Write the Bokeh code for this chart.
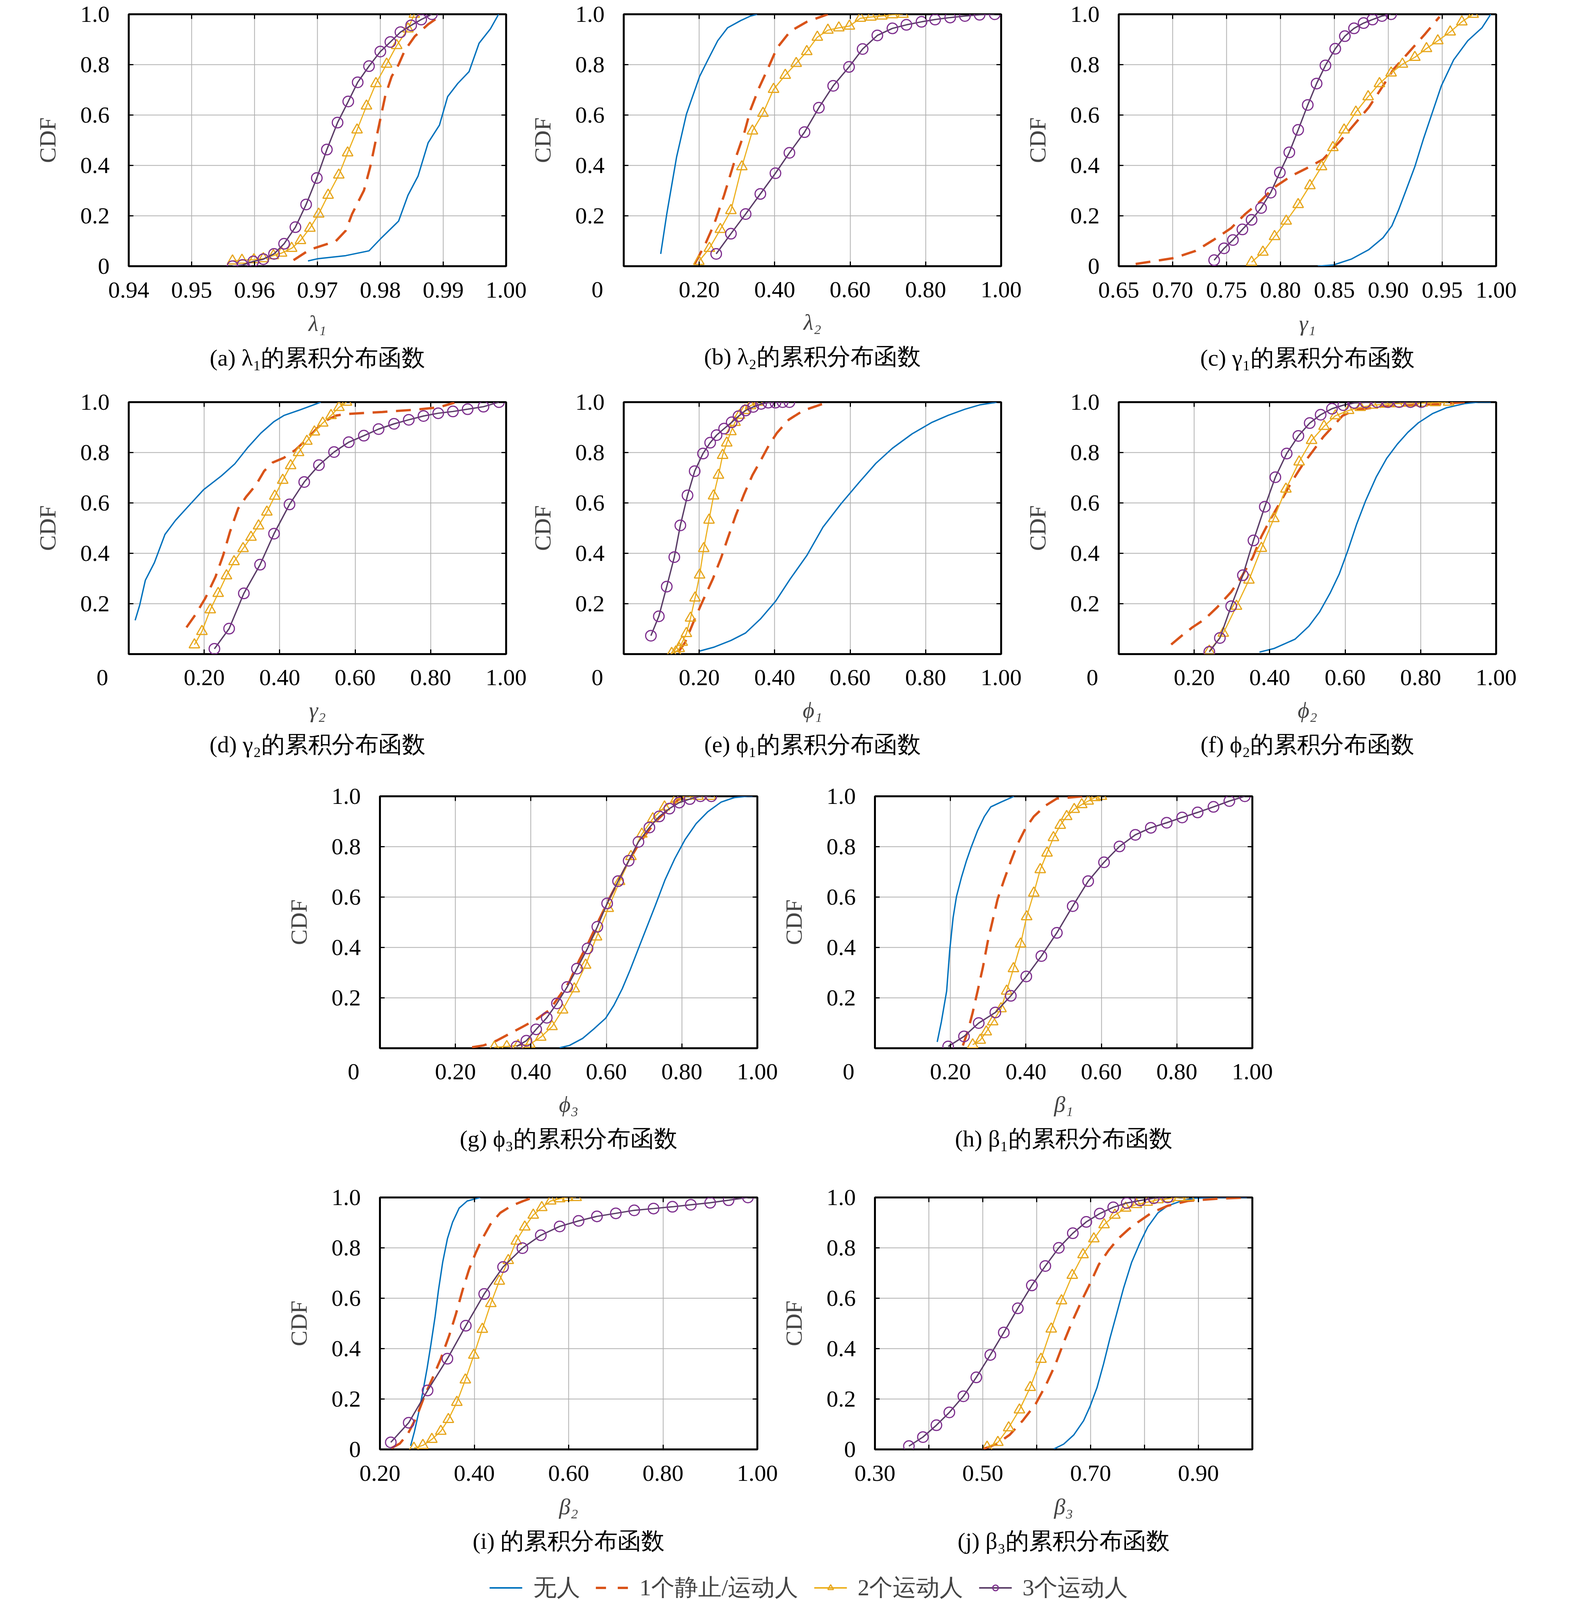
import numpy as np
from bokeh.plotting import figure
from bokeh.models import (Range1d, FixedTicker, LinearAxis, Legend, LegendItem,
                          ColumnDataSource, Spacer, Title)
from bokeh.layouts import row, column
from bokeh.embed import file_html
from bokeh.resources import INLINE

# ---- data (x value, CDF) ----
# series order in every panel: none (无人), one (1个静止/运动人), two (2个运动人), three (3个运动人)

# (a) lambda1
lam1_none_x = [0.9685, 0.9701, 0.9745, 0.9782, 0.9800, 0.9829, 0.9844, 0.9860, 0.9876, 0.9894, 0.9907, 0.9923, 0.9941, 0.9957, 0.9975, 0.9988]
lam1_none_y = [0.021, 0.030, 0.042, 0.061, 0.108, 0.179, 0.282, 0.358, 0.490, 0.560, 0.673, 0.725, 0.772, 0.885, 0.942, 1.0]
lam1_one_x = [0.9662, 0.9688, 0.9729, 0.9745, 0.9755, 0.9774, 0.9784, 0.9792, 0.9800, 0.9808, 0.9818, 0.9829, 0.9839, 0.9855, 0.9876, 0.9899]
lam1_one_y = [0.024, 0.066, 0.099, 0.141, 0.207, 0.301, 0.395, 0.490, 0.584, 0.678, 0.753, 0.800, 0.857, 0.913, 0.960, 1.0]
lam1_two_x = [0.9565, 0.9580, 0.9599, 0.9614, 0.9630, 0.9643, 0.9659, 0.9673, 0.9688, 0.9702, 0.9717, 0.9734, 0.9748, 0.9763, 0.9778, 0.9793, 0.9810, 0.9826, 0.9844, 0.9854]
lam1_two_y = [0.021, 0.024, 0.026, 0.030, 0.042, 0.052, 0.071, 0.102, 0.151, 0.207, 0.282, 0.362, 0.450, 0.541, 0.636, 0.725, 0.802, 0.876, 0.942, 1.0]
lam1_three_x = [0.9565, 0.9581, 0.9598, 0.9614, 0.9631, 0.9647, 0.9665, 0.9682, 0.9699, 0.9715, 0.9732, 0.9749, 0.9764, 0.9782, 0.9800, 0.9816, 0.9832, 0.9849, 0.9865, 0.9882]
lam1_three_y = [0.0, 0.005, 0.019, 0.028, 0.049, 0.089, 0.155, 0.245, 0.350, 0.463, 0.570, 0.654, 0.730, 0.794, 0.852, 0.890, 0.929, 0.956, 0.979, 1.0]

# (b) lambda2
lam2_none_x = [0.098, 0.114, 0.127, 0.140, 0.153, 0.166, 0.179, 0.201, 0.223, 0.249, 0.275, 0.310, 0.336, 0.354]
lam2_none_y = [0.049, 0.207, 0.320, 0.433, 0.518, 0.603, 0.659, 0.753, 0.819, 0.895, 0.946, 0.975, 0.993, 1.0]
lam2_one_x = [0.188, 0.218, 0.240, 0.266, 0.293, 0.319, 0.336, 0.358, 0.384, 0.406, 0.441, 0.485, 0.541]
lam2_one_y = [0.009, 0.094, 0.169, 0.282, 0.414, 0.527, 0.621, 0.706, 0.791, 0.866, 0.932, 0.970, 1.0]
lam2_two_x = [0.199, 0.227, 0.256, 0.284, 0.313, 0.341, 0.369, 0.397, 0.428, 0.457, 0.485, 0.513, 0.541, 0.570, 0.598, 0.627, 0.655, 0.684, 0.712, 0.740]
lam2_two_y = [0.019, 0.071, 0.146, 0.221, 0.395, 0.537, 0.607, 0.702, 0.758, 0.805, 0.852, 0.909, 0.937, 0.946, 0.953, 0.984, 0.989, 0.993, 0.998, 1.0]
lam2_three_x = [0.245, 0.284, 0.323, 0.362, 0.402, 0.439, 0.479, 0.517, 0.555, 0.597, 0.633, 0.672, 0.712, 0.749, 0.789, 0.825, 0.865, 0.904, 0.943, 0.983]
lam2_three_y = [0.049, 0.129, 0.207, 0.287, 0.369, 0.450, 0.532, 0.629, 0.716, 0.791, 0.862, 0.916, 0.944, 0.958, 0.970, 0.979, 0.987, 0.993, 0.998, 1.0]

# (c) gamma1
gam1_none_x = [0.8345, 0.8492, 0.8656, 0.8820, 0.8951, 0.9033, 0.9098, 0.9164, 0.9246, 0.9328, 0.9410, 0.9492, 0.9606, 0.9737, 0.9868, 0.9950]
gam1_none_y = [0.0, 0.005, 0.028, 0.066, 0.113, 0.160, 0.226, 0.301, 0.395, 0.508, 0.612, 0.716, 0.819, 0.895, 0.946, 1.0]
gam1_one_x = [0.6657, 0.6887, 0.7018, 0.7214, 0.7378, 0.7542, 0.7673, 0.7804, 0.7935, 0.8099, 0.8230, 0.8394, 0.8558, 0.8689, 0.8820, 0.8951, 0.9049, 0.9148, 0.9246, 0.9344, 0.9475]
gam1_one_y = [0.009, 0.024, 0.033, 0.061, 0.104, 0.151, 0.207, 0.254, 0.311, 0.358, 0.386, 0.424, 0.499, 0.565, 0.631, 0.716, 0.782, 0.829, 0.876, 0.923, 0.990]
gam1_two_x = [0.7732, 0.7837, 0.7945, 0.8053, 0.8164, 0.8273, 0.8381, 0.8486, 0.8590, 0.8699, 0.8813, 0.8918, 0.9026, 0.9131, 0.9246, 0.9354, 0.9459, 0.9574, 0.9682, 0.9787]
gam1_two_y = [0.016, 0.056, 0.118, 0.179, 0.245, 0.320, 0.395, 0.471, 0.541, 0.612, 0.673, 0.725, 0.767, 0.802, 0.829, 0.864, 0.895, 0.930, 0.970, 1.0]
gam1_three_x = [0.7385, 0.7477, 0.7559, 0.7647, 0.7732, 0.7820, 0.7909, 0.7994, 0.8082, 0.8164, 0.8253, 0.8335, 0.8417, 0.8508, 0.8597, 0.8682, 0.8771, 0.8853, 0.8941, 0.9026]
gam1_three_y = [0.024, 0.071, 0.104, 0.146, 0.184, 0.231, 0.292, 0.372, 0.452, 0.541, 0.640, 0.725, 0.797, 0.863, 0.913, 0.944, 0.965, 0.979, 0.993, 1.0]

# (d) gamma2
gam2_none_x = [0.017, 0.029, 0.044, 0.068, 0.096, 0.124, 0.155, 0.198, 0.246, 0.281, 0.316, 0.350, 0.385, 0.411, 0.455, 0.509]
gam2_none_y = [0.134, 0.194, 0.293, 0.363, 0.475, 0.531, 0.582, 0.652, 0.708, 0.755, 0.821, 0.877, 0.923, 0.947, 0.970, 1.0]
gam2_one_x = [0.153, 0.177, 0.203, 0.230, 0.250, 0.268, 0.290, 0.311, 0.337, 0.359, 0.381, 0.411, 0.442, 0.472, 0.498, 0.524, 0.550, 0.577, 0.672, 0.759, 0.820, 0.863]
gam2_one_y = [0.106, 0.157, 0.222, 0.307, 0.391, 0.484, 0.578, 0.624, 0.671, 0.727, 0.760, 0.779, 0.811, 0.853, 0.895, 0.928, 0.947, 0.953, 0.961, 0.970, 0.979, 0.998]
gam2_two_x = [0.174, 0.194, 0.216, 0.237, 0.259, 0.279, 0.303, 0.324, 0.344, 0.366, 0.387, 0.408, 0.429, 0.450, 0.472, 0.492, 0.514, 0.536, 0.557, 0.577]
gam2_two_y = [0.037, 0.090, 0.176, 0.241, 0.311, 0.367, 0.419, 0.464, 0.509, 0.564, 0.627, 0.690, 0.748, 0.800, 0.845, 0.882, 0.917, 0.947, 0.979, 1.0]
gam2_three_x = [0.227, 0.266, 0.305, 0.348, 0.385, 0.426, 0.465, 0.504, 0.544, 0.583, 0.623, 0.662, 0.703, 0.742, 0.781, 0.820, 0.859, 0.898, 0.940, 0.981]
gam2_three_y = [0.021, 0.101, 0.241, 0.355, 0.478, 0.594, 0.683, 0.750, 0.802, 0.841, 0.867, 0.893, 0.914, 0.930, 0.945, 0.956, 0.963, 0.972, 0.982, 1.0]

# (e) phi1
phi1_none_x = [0.201, 0.240, 0.284, 0.323, 0.362, 0.402, 0.441, 0.485, 0.528, 0.576, 0.624, 0.668, 0.712, 0.764, 0.817, 0.860, 0.904, 0.943, 0.991]
phi1_none_y = [0.012, 0.028, 0.054, 0.084, 0.139, 0.209, 0.298, 0.391, 0.504, 0.597, 0.682, 0.757, 0.817, 0.874, 0.920, 0.948, 0.972, 0.989, 1.0]
phi1_one_x = [0.144, 0.162, 0.188, 0.210, 0.236, 0.258, 0.275, 0.297, 0.319, 0.341, 0.362, 0.384, 0.406, 0.437, 0.476, 0.541]
phi1_one_y = [0.007, 0.045, 0.139, 0.213, 0.298, 0.382, 0.457, 0.551, 0.635, 0.710, 0.766, 0.827, 0.878, 0.930, 0.967, 1.0]
phi1_two_x = [0.127, 0.138, 0.147, 0.155, 0.166, 0.177, 0.189, 0.201, 0.212, 0.226, 0.238, 0.251, 0.262, 0.273, 0.284, 0.295, 0.307, 0.321, 0.336, 0.356]
phi1_two_y = [0.003, 0.009, 0.022, 0.047, 0.082, 0.143, 0.223, 0.314, 0.419, 0.532, 0.628, 0.710, 0.789, 0.838, 0.883, 0.920, 0.948, 0.967, 0.986, 1.0]
phi1_three_x = [0.072, 0.093, 0.114, 0.134, 0.150, 0.169, 0.188, 0.210, 0.229, 0.246, 0.266, 0.286, 0.304, 0.323, 0.343, 0.364, 0.383, 0.402, 0.421, 0.439]
phi1_three_y = [0.073, 0.150, 0.268, 0.385, 0.511, 0.630, 0.726, 0.796, 0.839, 0.869, 0.895, 0.920, 0.944, 0.967, 0.981, 0.993, 0.998, 0.998, 1.0, 1.0]

# (f) phi2
phi2_none_x = [0.373, 0.411, 0.467, 0.504, 0.532, 0.560, 0.584, 0.607, 0.630, 0.654, 0.682, 0.710, 0.738, 0.766, 0.794, 0.832, 0.869, 0.916, 0.953, 0.986]
phi2_none_y = [0.008, 0.022, 0.059, 0.111, 0.167, 0.242, 0.317, 0.411, 0.514, 0.608, 0.702, 0.777, 0.833, 0.880, 0.918, 0.955, 0.978, 0.994, 1.0, 1.0]
phi2_one_x = [0.139, 0.167, 0.195, 0.228, 0.261, 0.298, 0.326, 0.355, 0.378, 0.401, 0.430, 0.458, 0.486, 0.514, 0.542, 0.570, 0.593, 0.626, 0.701, 0.841, 0.920]
phi2_one_y = [0.038, 0.073, 0.106, 0.139, 0.186, 0.247, 0.308, 0.383, 0.467, 0.533, 0.608, 0.683, 0.749, 0.805, 0.862, 0.908, 0.946, 0.969, 0.983, 0.992, 1.0]
phi2_two_x = [0.240, 0.277, 0.312, 0.345, 0.378, 0.411, 0.443, 0.478, 0.511, 0.544, 0.574, 0.609, 0.640, 0.673, 0.705, 0.738, 0.771, 0.804, 0.839, 0.874]
phi2_two_y = [0.012, 0.083, 0.190, 0.294, 0.420, 0.538, 0.655, 0.763, 0.848, 0.904, 0.946, 0.967, 0.979, 0.988, 0.992, 0.994, 0.996, 0.996, 0.998, 1.0]
phi2_three_x = [0.240, 0.268, 0.298, 0.329, 0.357, 0.387, 0.415, 0.445, 0.476, 0.506, 0.535, 0.565, 0.595, 0.624, 0.654, 0.684, 0.713, 0.743, 0.773, 0.802]
phi2_three_y = [0.009, 0.064, 0.190, 0.313, 0.451, 0.585, 0.702, 0.796, 0.866, 0.917, 0.950, 0.974, 0.988, 0.997, 0.999, 1.0, 1.0, 1.0, 1.0, 1.0]

# (g) phi3
phi3_none_x = [0.476, 0.502, 0.537, 0.567, 0.598, 0.620, 0.642, 0.663, 0.685, 0.707, 0.729, 0.755, 0.781, 0.808, 0.838, 0.869, 0.904, 0.939, 0.974, 1.0]
phi3_none_y = [0.002, 0.011, 0.039, 0.077, 0.119, 0.171, 0.236, 0.311, 0.396, 0.480, 0.564, 0.667, 0.752, 0.827, 0.892, 0.939, 0.977, 0.995, 1.0, 1.0]
phi3_one_x = [0.244, 0.274, 0.309, 0.344, 0.379, 0.414, 0.449, 0.476, 0.502, 0.528, 0.554, 0.580, 0.607, 0.633, 0.659, 0.685, 0.712, 0.738, 0.764, 0.790, 0.808]
phi3_one_y = [0.004, 0.011, 0.030, 0.058, 0.086, 0.114, 0.152, 0.208, 0.264, 0.349, 0.424, 0.508, 0.592, 0.667, 0.742, 0.808, 0.864, 0.911, 0.948, 0.986, 1.0]
phi3_two_x = [0.303, 0.336, 0.366, 0.397, 0.426, 0.456, 0.484, 0.515, 0.545, 0.574, 0.605, 0.635, 0.665, 0.694, 0.723, 0.754, 0.784, 0.812, 0.843, 0.876]
phi3_two_y = [0.004, 0.007, 0.011, 0.016, 0.044, 0.086, 0.152, 0.236, 0.330, 0.442, 0.555, 0.662, 0.761, 0.850, 0.911, 0.958, 0.988, 1.0, 1.0, 1.0]
phi3_three_x = [0.362, 0.388, 0.414, 0.442, 0.469, 0.496, 0.522, 0.550, 0.576, 0.602, 0.631, 0.659, 0.685, 0.714, 0.740, 0.767, 0.793, 0.821, 0.849, 0.878]
phi3_three_y = [0.007, 0.030, 0.075, 0.121, 0.178, 0.243, 0.316, 0.396, 0.482, 0.575, 0.663, 0.744, 0.819, 0.876, 0.920, 0.951, 0.975, 0.989, 1.0, 1.0]

# (h) beta1
bet1_none_x = [0.165, 0.176, 0.190, 0.198, 0.207, 0.216, 0.229, 0.242, 0.255, 0.272, 0.290, 0.307, 0.334, 0.369]
bet1_none_y = [0.025, 0.105, 0.227, 0.386, 0.517, 0.602, 0.677, 0.742, 0.798, 0.864, 0.920, 0.958, 0.977, 1.0]
bet1_one_x = [0.233, 0.246, 0.259, 0.272, 0.286, 0.299, 0.312, 0.325, 0.342, 0.360, 0.377, 0.399, 0.421, 0.452, 0.482, 0.552]
bet1_one_y = [0.011, 0.067, 0.142, 0.227, 0.321, 0.424, 0.508, 0.592, 0.667, 0.742, 0.808, 0.873, 0.920, 0.963, 0.991, 1.0]
bet1_two_x = [0.259, 0.279, 0.295, 0.312, 0.334, 0.349, 0.367, 0.386, 0.402, 0.421, 0.438, 0.456, 0.473, 0.491, 0.508, 0.528, 0.548, 0.565, 0.583, 0.600]
bet1_two_y = [0.014, 0.032, 0.065, 0.105, 0.157, 0.227, 0.316, 0.414, 0.522, 0.616, 0.709, 0.775, 0.836, 0.885, 0.920, 0.948, 0.967, 0.981, 0.995, 1.0]
bet1_three_x = [0.194, 0.236, 0.275, 0.319, 0.360, 0.401, 0.441, 0.482, 0.524, 0.565, 0.607, 0.648, 0.690, 0.731, 0.773, 0.814, 0.855, 0.897, 0.939, 0.980]
bet1_three_y = [0.007, 0.047, 0.100, 0.142, 0.208, 0.285, 0.366, 0.458, 0.564, 0.663, 0.738, 0.801, 0.847, 0.875, 0.895, 0.916, 0.936, 0.958, 0.981, 1.0]

# (i) beta2
bet2_none_x = [0.265, 0.273, 0.282, 0.291, 0.300, 0.308, 0.317, 0.324, 0.333, 0.343, 0.354, 0.368, 0.385, 0.413]
bet2_none_y = [0.014, 0.070, 0.145, 0.229, 0.322, 0.416, 0.528, 0.631, 0.743, 0.836, 0.902, 0.958, 0.986, 1.0]
bet2_one_x = [0.224, 0.242, 0.259, 0.277, 0.294, 0.312, 0.329, 0.347, 0.361, 0.375, 0.389, 0.403, 0.417, 0.434, 0.455, 0.479, 0.504, 0.525]
bet2_one_y = [0.005, 0.023, 0.061, 0.126, 0.210, 0.285, 0.360, 0.453, 0.537, 0.631, 0.715, 0.780, 0.836, 0.893, 0.939, 0.967, 0.986, 1.0]
bet2_two_x = [0.272, 0.291, 0.310, 0.329, 0.345, 0.363, 0.381, 0.399, 0.417, 0.435, 0.453, 0.472, 0.489, 0.507, 0.525, 0.543, 0.562, 0.581, 0.598, 0.616]
bet2_two_y = [0.005, 0.016, 0.040, 0.072, 0.119, 0.187, 0.276, 0.374, 0.477, 0.579, 0.668, 0.750, 0.827, 0.883, 0.930, 0.960, 0.986, 0.995, 1.0, 1.0]
bet2_three_x = [0.223, 0.261, 0.301, 0.343, 0.382, 0.421, 0.461, 0.502, 0.541, 0.581, 0.621, 0.660, 0.700, 0.739, 0.780, 0.820, 0.859, 0.900, 0.939, 0.980]
bet2_three_y = [0.028, 0.106, 0.234, 0.360, 0.491, 0.617, 0.724, 0.799, 0.850, 0.885, 0.907, 0.925, 0.937, 0.949, 0.956, 0.963, 0.971, 0.979, 0.989, 1.0]

# (j) beta3
bet3_none_x = [0.632, 0.650, 0.669, 0.687, 0.699, 0.712, 0.724, 0.736, 0.748, 0.761, 0.776, 0.791, 0.806, 0.825, 0.843, 0.868, 0.892, 0.935, 0.990]
bet3_none_y = [0.002, 0.021, 0.058, 0.114, 0.171, 0.246, 0.339, 0.442, 0.536, 0.639, 0.742, 0.817, 0.883, 0.939, 0.967, 0.986, 0.997, 1.0, 1.0]
bet3_one_x = [0.501, 0.525, 0.550, 0.574, 0.598, 0.617, 0.635, 0.650, 0.666, 0.684, 0.699, 0.715, 0.733, 0.751, 0.770, 0.788, 0.813, 0.843, 0.880, 0.935, 0.990]
bet3_one_y = [0.002, 0.021, 0.058, 0.114, 0.180, 0.255, 0.339, 0.424, 0.508, 0.593, 0.658, 0.733, 0.789, 0.836, 0.873, 0.902, 0.939, 0.967, 0.986, 0.995, 1.0]
bet3_two_x = [0.508, 0.528, 0.548, 0.568, 0.588, 0.608, 0.627, 0.646, 0.666, 0.686, 0.706, 0.725, 0.745, 0.765, 0.785, 0.805, 0.825, 0.845, 0.865, 0.883]
bet3_two_y = [0.009, 0.028, 0.086, 0.157, 0.246, 0.358, 0.478, 0.590, 0.691, 0.773, 0.836, 0.892, 0.930, 0.958, 0.972, 0.981, 0.991, 0.995, 1.0, 1.0]
bet3_three_x = [0.363, 0.389, 0.414, 0.438, 0.464, 0.488, 0.514, 0.539, 0.565, 0.591, 0.616, 0.641, 0.667, 0.692, 0.717, 0.742, 0.767, 0.792, 0.817, 0.843]
bet3_three_y = [0.013, 0.049, 0.096, 0.147, 0.211, 0.286, 0.375, 0.464, 0.560, 0.651, 0.728, 0.800, 0.858, 0.903, 0.936, 0.961, 0.978, 0.988, 0.997, 1.0]

# ---- ticks and labels ----
y_ticks = [0, 0.2, 0.4, 0.6, 0.8, 1.0]
y_labels = ["0", "0.2", "0.4", "0.6", "0.8", "1.0"]
a_ticks = [0.94, 0.95, 0.96, 0.97, 0.98, 0.99, 1.0]
a_labels = ["0.94", "0.95", "0.96", "0.97", "0.98", "0.99", "1.00"]
c_ticks = [0.65, 0.7, 0.75, 0.8, 0.85, 0.9, 0.95, 1.0]
c_labels = ["0.65", "0.70", "0.75", "0.80", "0.85", "0.90", "0.95", "1.00"]
unit_ticks = [0.2, 0.4, 0.6, 0.8, 1.0]
unit_labels = ["0.20", "0.40", "0.60", "0.80", "1.00"]
j_ticks = [0.3, 0.4, 0.5, 0.6, 0.7, 0.8, 0.9, 1.0]
j_labels = ["0.30", "", "0.50", "", "0.70", "", "0.90", ""]
# the shared origin "0" sits left of the corner; trailing no-break spaces push it off the tick
origin_label = "0" + "\u00a0" * 9

captions = ["(a) λ₁的累积分布函数", "(b) λ₂的累积分布函数", "(c) γ₁的累积分布函数",
            "(d) γ₂的累积分布函数", "(e) ϕ₁的累积分布函数", "(f) ϕ₂的累积分布函数",
            "(g) ϕ₃的累积分布函数", "(h) β₁的累积分布函数", "(i) 的累积分布函数",
            "(j) β₃的累积分布函数"]
xlabels = ["λ₁", "λ₂", "γ₁", "γ₂", "ϕ₁", "ϕ₂", "ϕ₃", "β₁", "β₂", "β₃"]
legend_labels = ["无人", "1个静止/运动人", "2个运动人", "3个运动人"]

SERIF = "Liberation Serif"
BLUE = "#0072BD"
RED = "#D95319"
YELLOW = "#EDB120"
TRI = "#E6A51C"
PURPLE = "#7E2F8E"
PURPLE_LINE = "#5b3e68"
TICK_FS = "60px"

# the photographed page only shows about 4116px of height, so the rows are laid out in that
FW, FH = 966, 645
TOP = 36


def style_axis(ax, ticks, labels=None):
    ax.ticker = FixedTicker(ticks=ticks)
    ax.axis_line_color = None
    ax.major_tick_in = 12
    ax.major_tick_out = 0
    ax.major_tick_line_width = 3
    ax.major_tick_line_color = "black"
    ax.minor_tick_line_color = None
    if labels is None:
        # top/right sides: inward ticks only, no label text
        ax.major_label_overrides = {t: "" for t in ticks}
        ax.major_label_text_font_size = "1px"
        ax.major_label_standoff = 0
    else:
        ax.major_label_overrides = dict(zip(ticks, labels))
        ax.major_label_text_font = SERIF
        ax.major_label_text_font_size = TICK_FS
        ax.major_label_text_color = "black"


def panel(idx, xr, xt, xl, curves, bottom, origin):
    p = figure(frame_width=FW, frame_height=FH, x_range=Range1d(*xr), y_range=Range1d(0, 1),
               output_backend="svg", toolbar_location=None,
               min_border_left=245, min_border_right=56, min_border_top=TOP,
               min_border_bottom=bottom)
    p.outline_line_color = "black"
    p.outline_line_width = 5
    p.background_fill_color = "white"
    p.border_fill_color = "white"

    yt = y_ticks[1:] if origin else y_ticks
    yl = y_labels[1:] if origin else y_labels
    bt = [0] + xt if origin else xt
    bl = [origin_label] + xl if origin else xl
    style_axis(p.xaxis[0], bt, bl)
    style_axis(p.yaxis[0], yt, yl)
    # the padded origin label measures taller, so pull that axis up to line up with the others
    p.xaxis.major_label_standoff = 26 if origin else 41
    p.yaxis.major_label_standoff = 49
    p.xaxis.axis_label = xlabels[idx]
    p.xaxis.axis_label_text_font = SERIF
    p.xaxis.axis_label_text_font_size = "58px"
    p.xaxis.axis_label_text_font_style = "italic"
    p.xaxis.axis_label_standoff = 15 if origin else 30
    p.yaxis.axis_label = "CDF"
    p.yaxis.axis_label_text_font = SERIF
    p.yaxis.axis_label_text_font_size = "60px"
    p.yaxis.axis_label_text_font_style = "normal"
    p.yaxis.axis_label_standoff = 48

    top = LinearAxis()
    style_axis(top, xt)
    p.add_layout(top, "above")
    right = LinearAxis()
    style_axis(right, yt)
    p.add_layout(right, "right")

    p.xgrid.ticker = FixedTicker(ticks=xt)
    p.ygrid.ticker = FixedTicker(ticks=yt)
    p.grid.grid_line_color = "#b0b0b0"
    p.grid.grid_line_width = 2

    nx, ny, ox, oy, tx, ty, hx, hy = curves
    p.line(nx, ny, line_color=BLUE, line_width=3.5)
    p.line(ox, oy, line_color=RED, line_width=6, line_dash="38 22")
    p.line(tx, ty, line_color=YELLOW, line_width=3)
    p.scatter(tx, ty, marker="triangle", size=27, fill_color=None, line_color=TRI, line_width=3)
    p.line(hx, hy, line_color=PURPLE_LINE, line_width=3.5)
    p.scatter(hx, hy, marker="circle", size=27, fill_color=None, line_color=PURPLE, line_width=3)

    p.add_layout(Title(text=captions[idx], align="center", text_font=SERIF,
                       text_font_size="60px", text_font_style="normal",
                       text_color="black", standoff=36), "below")
    return p


pa = panel(0, (0.94, 1.0), a_ticks, a_labels,
           [lam1_none_x, lam1_none_y, lam1_one_x, lam1_one_y, lam1_two_x, lam1_two_y, lam1_three_x, lam1_three_y], 312, False)
pb = panel(1, (0, 1.0), unit_ticks, unit_labels,
           [lam2_none_x, lam2_none_y, lam2_one_x, lam2_one_y, lam2_two_x, lam2_two_y, lam2_three_x, lam2_three_y], 312, True)
pc = panel(2, (0.65, 1.0), c_ticks, c_labels,
           [gam1_none_x, gam1_none_y, gam1_one_x, gam1_one_y, gam1_two_x, gam1_two_y, gam1_three_x, gam1_three_y], 312, False)
pd = panel(3, (0, 1.0), unit_ticks, unit_labels,
           [gam2_none_x, gam2_none_y, gam2_one_x, gam2_one_y, gam2_two_x, gam2_two_y, gam2_three_x, gam2_three_y], 328, True)
pe = panel(4, (0, 1.0), unit_ticks, unit_labels,
           [phi1_none_x, phi1_none_y, phi1_one_x, phi1_one_y, phi1_two_x, phi1_two_y, phi1_three_x, phi1_three_y], 328, True)
pf = panel(5, (0, 1.0), unit_ticks, unit_labels,
           [phi2_none_x, phi2_none_y, phi2_one_x, phi2_one_y, phi2_two_x, phi2_two_y, phi2_three_x, phi2_three_y], 328, True)
pg = panel(6, (0, 1.0), unit_ticks, unit_labels,
           [phi3_none_x, phi3_none_y, phi3_one_x, phi3_one_y, phi3_two_x, phi3_two_y, phi3_three_x, phi3_three_y], 346, True)
ph = panel(7, (0, 1.0), unit_ticks, unit_labels,
           [bet1_none_x, bet1_none_y, bet1_one_x, bet1_one_y, bet1_two_x, bet1_two_y, bet1_three_x, bet1_three_y], 346, True)
pi = panel(8, (0.2, 1.0), unit_ticks, unit_labels,
           [bet2_none_x, bet2_none_y, bet2_one_x, bet2_one_y, bet2_two_x, bet2_two_y, bet2_three_x, bet2_three_y], 318, False)
pj = panel(9, (0.3, 1.0), j_ticks, j_labels,
           [bet3_none_x, bet3_none_y, bet3_one_x, bet3_one_y, bet3_two_x, bet3_two_y, bet3_three_x, bet3_three_y], 318, False)

# legend strip at the bottom; its renderers hold a single NaN so they draw nothing
# in the strip but still give the legend its swatches
lg = figure(width=1760, height=72, x_range=Range1d(0, 1), y_range=Range1d(0, 1),
            output_backend="svg", toolbar_location=None, min_border=0,
            x_axis_location=None, y_axis_location=None, outline_line_color=None)
lg.xgrid.visible = False
lg.ygrid.visible = False
blank = ColumnDataSource(data=dict(x=np.array([np.nan]), y=np.array([np.nan])))
r_none = lg.line("x", "y", source=blank, line_color=BLUE, line_width=4)
r_one = lg.line("x", "y", source=blank, line_color=RED, line_width=6, line_dash="26 30")
r_two = lg.line("x", "y", source=blank, line_color=YELLOW, line_width=4)
r_two_m = lg.scatter("x", "y", source=blank, marker="triangle", size=27, fill_color=None, line_color=TRI, line_width=3)
r_three = lg.line("x", "y", source=blank, line_color=PURPLE_LINE, line_width=4)
r_three_m = lg.scatter("x", "y", source=blank, marker="circle", size=27, fill_color=None, line_color=PURPLE, line_width=3)
legend = Legend(items=[LegendItem(label=legend_labels[0], renderers=[r_none]),
                       LegendItem(label=legend_labels[1], renderers=[r_one]),
                       LegendItem(label=legend_labels[2], renderers=[r_two, r_two_m]),
                       LegendItem(label=legend_labels[3], renderers=[r_three, r_three_m])],
                orientation="horizontal", location="center",
                glyph_width=84, glyph_height=36, label_standoff=28, spacing=40,
                padding=0, margin=0, border_line_color=None, background_fill_alpha=0,
                label_text_font=SERIF, label_text_font_size="60px")
lg.add_layout(legend)

layout = column(
    row(Spacer(width=84, height=1), pa, pb, pc),
    row(Spacer(width=84, height=1), pd, pe, pf),
    row(Spacer(width=727, height=1), pg, ph),
    row(Spacer(width=727, height=1), pi, pj),
    row(Spacer(width=1190, height=1), lg),
)

open("out.html", "w").write(file_html(layout, INLINE, title="CDF"))
